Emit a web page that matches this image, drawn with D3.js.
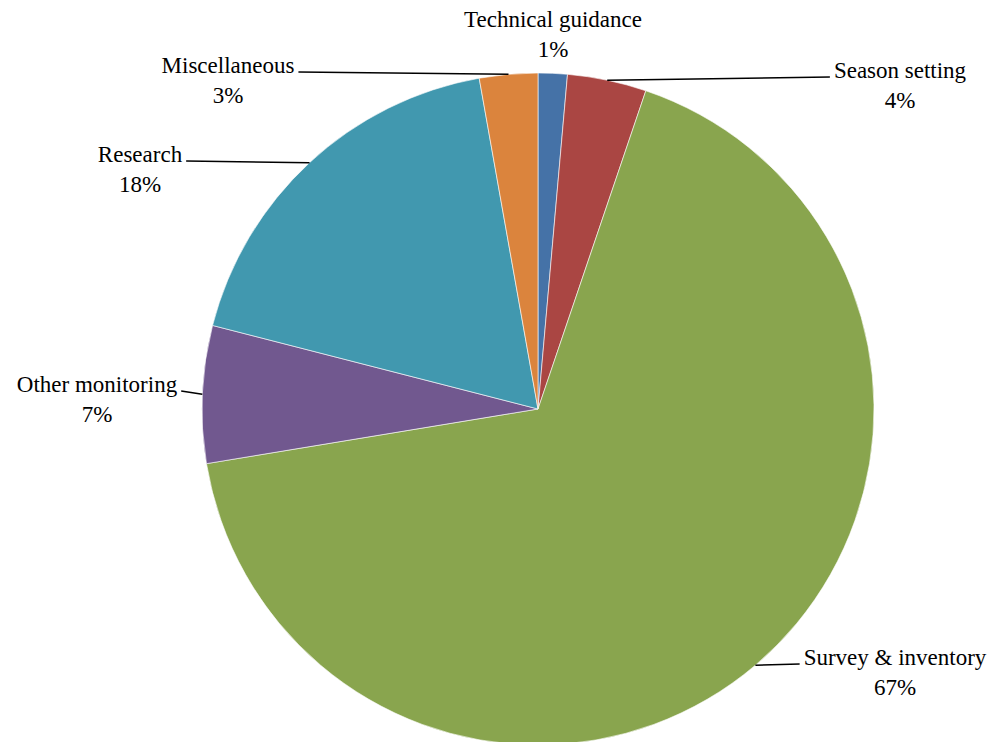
<!DOCTYPE html>
<html>
<head>
<meta charset="utf-8">
<script src="https://cdn.jsdelivr.net/npm/d3@7"></script>
<style>
  body { margin: 0; background: #fff; }
</style>
</head>
<body>
<svg id="chart" width="990" height="742"></svg>
<script>
// categories, clockwise from 12 o'clock
const categories = ['Technical guidance', 'Season setting', 'Survey & inventory', 'Other monitoring', 'Research', 'Miscellaneous']
const shares = [1.4, 3.8, 67.2, 6.6, 18.2, 2.8]
const pctLabels = ['1%', '4%', '67%', '7%', '18%', '3%']
const colors = ['#4572A7', '#AA4643', '#89A54E', '#71588F', '#4198AF', '#DB843D']

// label placement (centre x, baseline y of first line), side of the leader line
const labelPos = [
  { x: 553, y: 27, side: null },
  { x: 900, y: 78, side: 'left' },
  { x: 895, y: 665, side: 'left' },
  { x: 97, y: 392, side: 'right' },
  { x: 140, y: 162, side: 'right' },
  { x: 228, y: 73, side: 'right' }
]

const cx = 538
const cy = 409
const radius = 336
const FONT = "'Times New Roman', 'Liberation Serif', Times, serif"

const svg = d3.select('#chart')
const g = svg.append('g').attr('transform', `translate(${cx}, ${cy})`)

const pie = d3.pie().sort(null).value(d => d)
const arcs = pie(shares)
const arc = d3.arc().innerRadius(0).outerRadius(radius)

g.selectAll('path.slice')
  .data(arcs)
  .enter()
  .append('path')
  .attr('class', 'slice')
  .attr('d', arc)
  .attr('fill', (d, i) => colors[i])
  .attr('stroke', '#fff')
  .attr('stroke-width', 0.6)

const labels = svg.append('g').attr('class', 'labels')

arcs.forEach((a, i) => {
  const p = labelPos[i]
  const t = labels.append('text')
    .style('font-family', FONT)
    .style('font-size', '23px')
    .attr('fill', '#000')
    .attr('text-anchor', 'middle')
    .attr('x', p.x)
    .attr('y', p.y)
  t.append('tspan').attr('x', p.x).text(categories[i])
  t.append('tspan').attr('x', p.x).attr('dy', 30).text(pctLabels[i])

  if (!p.side) return
  const w = t.select('tspan').node().getComputedTextLength()
  const mid = (a.startAngle + a.endAngle) / 2
  const sx = cx + radius * Math.sin(mid)
  const sy = cy - radius * Math.cos(mid)
  const ex = p.side === 'left' ? p.x - w / 2 - 4 : p.x + w / 2 + 4
  const ey = p.y - 1
  labels.append('line')
    .attr('x1', sx)
    .attr('y1', sy)
    .attr('x2', ex)
    .attr('y2', ey)
    .attr('stroke', '#000')
    .attr('stroke-width', 1.5)
})
</script>
</body>
</html>
